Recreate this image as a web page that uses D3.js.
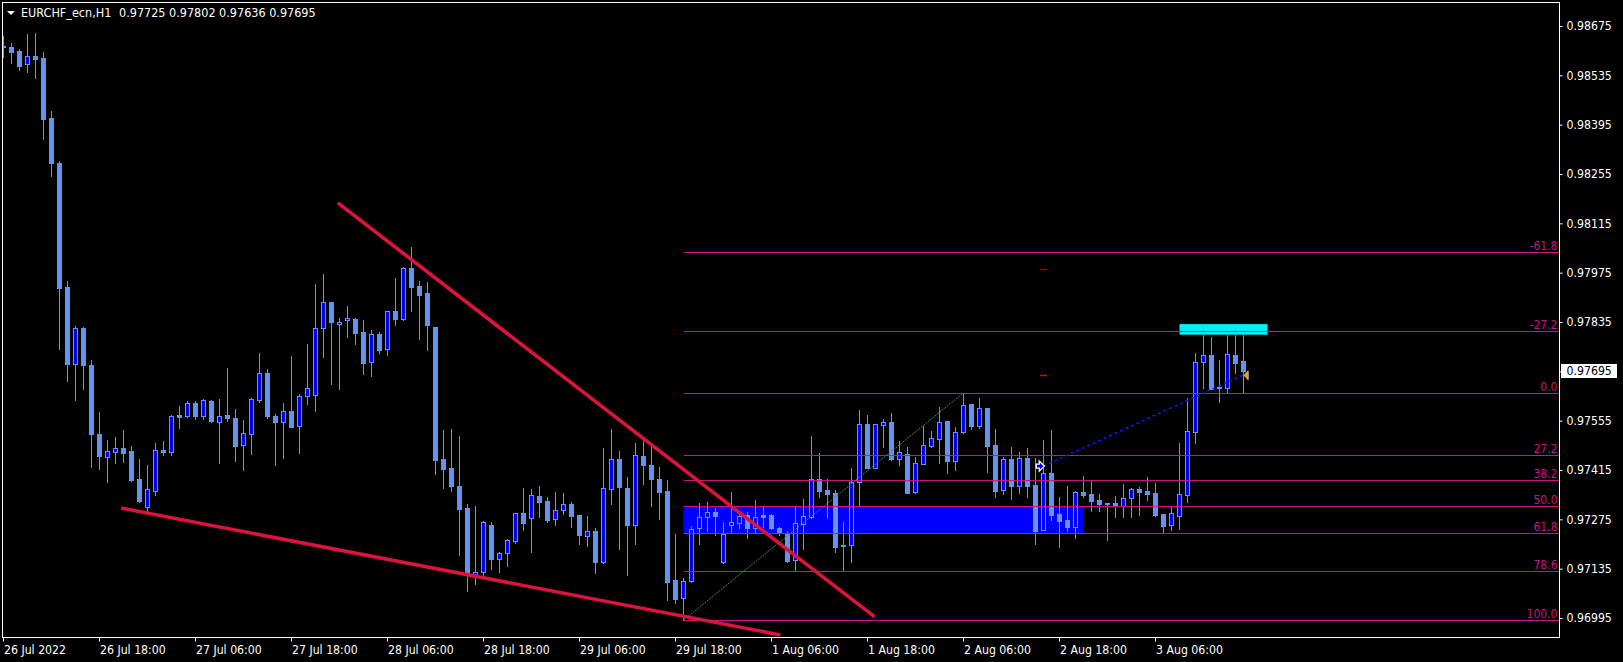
<!DOCTYPE html>
<html><head><meta charset="utf-8">
<script src="https://cdn.jsdelivr.net/npm/d3@7"></script>
<style>
html,body{margin:0;padding:0;background:#000;}
svg{display:block;font-family:"DejaVu Sans Condensed","DejaVu Sans",sans-serif;}
</style></head>
<body>
<svg id="c" width="1623" height="662"></svg>
<script>
// ---- data (EURCHF_ecn, H1) ----
const symbolTitle = "EURCHF_ecn,H1";
const open = [0.98618,0.98615,0.98604,0.98566,0.98590,0.98584,0.98414,0.98286,0.97934,0.97716,
0.97818,0.97713,0.97517,0.97452,0.97466,0.97477,0.97469,0.97389,0.97310,0.97356,
0.97472,0.97466,0.97571,0.97568,0.97605,0.97568,0.97611,0.97551,0.97571,0.97563,
0.97486,0.97517,0.97614,0.97690,0.97568,0.97551,0.97582,0.97540,0.97625,0.97628,
0.97818,0.97892,0.97829,0.97841,0.97843,0.97806,0.97721,0.97801,0.97758,0.97866,
0.97843,0.97988,0.97937,0.97917,0.97821,0.97446,0.97421,0.97370,0.97307,0.97118,
0.97126,0.97259,0.97163,0.97179,0.97214,0.97293,0.97280,0.97341,0.97327,0.97277,
0.97301,0.97318,0.97287,0.97228,0.97242,0.97154,0.97362,0.97446,0.97364,0.97258,
0.97456,0.97430,0.97389,0.97354,0.97103,0.97051,0.97101,0.97249,0.97281,0.97296,
0.97153,0.97258,0.97266,0.97287,0.97249,0.97286,0.97287,0.97250,0.97233,0.97159,
0.97261,0.97283,0.97389,0.97357,0.97350,0.97202,0.97202,0.97380,0.97545,0.97421,
0.97544,0.97551,0.97445,0.97461,0.97352,0.97433,0.97484,0.97504,0.97554,0.97440,
0.97523,0.97602,0.97540,0.97591,0.97486,0.97357,0.97446,0.97371,0.97449,0.97373,
0.97246,0.97406,0.97290,0.97273,0.97254,0.97352,0.97346,0.97330,0.97321,0.97321,
0.97314,0.97336,0.97361,0.97355,0.97350,0.97290,0.97260,0.97285,0.97345,0.97524,
0.97721,0.97741,0.97651,0.97647,0.97741,0.97725];
const high = [0.98647,0.98628,0.98611,0.98652,0.98656,0.98602,0.98434,0.98292,0.97951,0.97824,
0.97821,0.97727,0.97580,0.97500,0.97509,0.97529,0.97483,0.97446,0.97429,0.97492,
0.97497,0.97571,0.97597,0.97611,0.97611,0.97617,0.97614,0.97617,0.97704,0.97588,
0.97557,0.97619,0.97747,0.97701,0.97574,0.97605,0.97739,0.97631,0.97773,0.97943,
0.97971,0.97892,0.97846,0.97880,0.97846,0.97841,0.97812,0.97806,0.97866,0.97960,
0.97991,0.98048,0.97951,0.97948,0.97821,0.97529,0.97532,0.97512,0.97319,0.97314,
0.97270,0.97267,0.97183,0.97219,0.97294,0.97365,0.97361,0.97370,0.97339,0.97353,
0.97350,0.97324,0.97287,0.97284,0.97250,0.97477,0.97532,0.97469,0.97395,0.97492,
0.97507,0.97483,0.97424,0.97387,0.97232,0.97109,0.97256,0.97321,0.97324,0.97307,
0.97267,0.97352,0.97296,0.97296,0.97330,0.97311,0.97290,0.97253,0.97243,0.97311,
0.97333,0.97512,0.97463,0.97389,0.97357,0.97267,0.97421,0.97585,0.97571,0.97545,
0.97559,0.97577,0.97497,0.97480,0.97452,0.97540,0.97526,0.97594,0.97554,0.97537,
0.97634,0.97602,0.97619,0.97591,0.97532,0.97452,0.97480,0.97466,0.97477,0.97449,
0.97500,0.97529,0.97338,0.97370,0.97355,0.97398,0.97384,0.97347,0.97321,0.97341,
0.97375,0.97364,0.97367,0.97395,0.97378,0.97290,0.97311,0.97492,0.97619,0.97747,
0.97824,0.97792,0.97727,0.97798,0.97818,0.97802];
const low = [0.98586,0.98571,0.98550,0.98545,0.98528,0.98354,0.98250,0.97758,0.97668,0.97614,
0.97645,0.97424,0.97418,0.97381,0.97435,0.97438,0.97384,0.97324,0.97299,0.97344,
0.97458,0.97458,0.97534,0.97565,0.97560,0.97560,0.97551,0.97435,0.97554,0.97441,
0.97415,0.97461,0.97608,0.97563,0.97429,0.97449,0.97537,0.97463,0.97602,0.97582,
0.97736,0.97659,0.97645,0.97792,0.97773,0.97687,0.97682,0.97747,0.97741,0.97827,
0.97841,0.97866,0.97786,0.97756,0.97404,0.97364,0.97355,0.97174,0.97072,0.97091,
0.97110,0.97134,0.97126,0.97143,0.97207,0.97245,0.97183,0.97282,0.97268,0.97258,
0.97290,0.97254,0.97206,0.97200,0.97123,0.97151,0.97318,0.97191,0.97118,0.97206,
0.97376,0.97314,0.97275,0.97046,0.97038,0.96989,0.97098,0.97206,0.97242,0.97231,
0.97151,0.97235,0.97251,0.97223,0.97235,0.97254,0.97247,0.97231,0.97155,0.97128,
0.97191,0.97278,0.97338,0.97278,0.97181,0.97128,0.97154,0.97313,0.97420,0.97420,
0.97480,0.97444,0.97429,0.97349,0.97349,0.97432,0.97481,0.97434,0.97407,0.97414,
0.97520,0.97531,0.97534,0.97410,0.97339,0.97347,0.97334,0.97350,0.97339,0.97206,
0.97245,0.97274,0.97197,0.97243,0.97223,0.97339,0.97300,0.97300,0.97216,0.97282,
0.97282,0.97282,0.97288,0.97330,0.97284,0.97238,0.97245,0.97247,0.97324,0.97492,
0.97648,0.97648,0.97609,0.97636,0.97689,0.97636];
const close = [0.98615,0.98602,0.98562,0.98590,0.98582,0.98412,0.98285,0.97932,0.97716,0.97818,
0.97713,0.97517,0.97455,0.97469,0.97477,0.97463,0.97388,0.97328,0.97361,0.97472,
0.97466,0.97568,0.97565,0.97605,0.97568,0.97614,0.97553,0.97568,0.97563,0.97483,
0.97520,0.97617,0.97690,0.97568,0.97551,0.97582,0.97538,0.97625,0.97648,0.97818,
0.97892,0.97835,0.97835,0.97846,0.97804,0.97719,0.97801,0.97756,0.97866,0.97843,
0.97988,0.97934,0.97912,0.97827,0.97443,0.97418,0.97370,0.97304,0.97120,0.97125,
0.97267,0.97162,0.97179,0.97216,0.97293,0.97265,0.97344,0.97325,0.97272,0.97301,
0.97318,0.97285,0.97231,0.97242,0.97154,0.97364,0.97446,0.97368,0.97258,0.97458,
0.97429,0.97389,0.97352,0.97098,0.97050,0.97100,0.97247,0.97281,0.97296,0.97285,
0.97233,0.97267,0.97284,0.97249,0.97281,0.97283,0.97249,0.97236,0.97156,0.97265,
0.97284,0.97389,0.97356,0.97348,0.97197,0.97199,0.97381,0.97545,0.97421,0.97545,
0.97551,0.97445,0.97466,0.97351,0.97435,0.97485,0.97506,0.97551,0.97440,0.97522,
0.97599,0.97540,0.97591,0.97484,0.97356,0.97446,0.97370,0.97449,0.97371,0.97243,
0.97406,0.97288,0.97271,0.97254,0.97352,0.97343,0.97328,0.97319,0.97318,0.97313,
0.97336,0.97361,0.97353,0.97347,0.97287,0.97256,0.97293,0.97347,0.97526,0.97721,
0.97741,0.97646,0.97647,0.97743,0.97720,0.97695];

const priceTicks = [0.98675,0.98535,0.98395,0.98255,0.98115,0.97975,0.97835,0.97695,0.97555,0.97415,0.97275,0.97135,0.96995];
const timeTickIdx = [0,12,24,36,48,60,72,84,96,108,120,132,144];
const timeTickLabels = ["26 Jul 2022","26 Jul 18:00","27 Jul 06:00","27 Jul 18:00","28 Jul 06:00","28 Jul 18:00","29 Jul 06:00","29 Jul 18:00","1 Aug 06:00","1 Aug 18:00","2 Aug 06:00","2 Aug 18:00","3 Aug 06:00"];

// Fibonacci retracement (anchors: bar 85 low -> bar 120 high)
const fibAnchorIdx = [85, 120];
const fibLow = 0.96989, fibHigh = 0.97634;
const fibLevels = [-61.8,-27.2,0,27.2,38.2,50,61.8,78.6,100];
const fibLabels = ["-61.8","-27.2","0.0","27.2","38.2","50.0","61,8","78.6","100.0"];

// drawn objects (bar index, price)
const zoneRect = {i0:85, i1:135, p0:0.97311, p1:0.97236};
const cyanRect = {i0:147, i1:158, p0:0.97829, p1:0.97799};
const trendUpper = [[41.8,0.98173],[108.9,0.96998]];
const trendLower = [[14.7,0.97307],[97.1,0.96947]];
const blueDash = [[130,0.97426],[155,0.97685]];
const redMarks = [[130,0.97685,"#e00000"],[130,0.97985,"#8b0000"]];
const arrowMark = [129.6,0.97426];

// ---- drawing ----
const W=1623,H=662, L=2.5, R=1559.5, T=2.5, B=637.5;
const svg=d3.select("#c");
svg.append("rect").attr("width",W).attr("height",H).attr("fill","#000");

const x=d3.scaleLinear().domain([0,1]).range([3.5,11.5]);
const y=d3.scaleLinear().domain([0.96995,0.98675]).range([618,26]);
const ry=v=>Math.round(y(v))+0.5;

svg.append("clipPath").attr("id","clip").append("rect")
  .attr("x",L+0.5).attr("y",T+0.5).attr("width",R-L-1).attr("height",B-T-1);
const g=svg.append("g").attr("clip-path","url(#clip)");

// background rectangles
[[zoneRect,"#0000ff"],[cyanRect,"#00f0ff"]].forEach(([r,c])=>{
  g.append("rect").attr("x",x(r.i0)).attr("width",x(r.i1)-x(r.i0))
   .attr("y",y(r.p0)).attr("height",y(r.p1)-y(r.p0)).attr("fill",c);
});

// candles
const data=open.map((o,i)=>({i,o,h:high[i],l:low[i],c:close[i]}));
const cg=g.append("g");
cg.selectAll("line.w").data(data).join("line").attr("class","w")
  .attr("x1",d=>x(d.i)).attr("x2",d=>x(d.i))
  .attr("y1",d=>Math.round(y(d.h))).attr("y2",d=>Math.round(y(d.l))+1)
  .attr("stroke","#6495ed").attr("stroke-width",1);
cg.selectAll("rect.b").data(data).join("rect").attr("class","b")
  .attr("x",d=>x(d.i)-2).attr("width",4)
  .attr("y",d=>ry(Math.max(d.o,d.c)))
  .attr("height",d=>Math.max(0,ry(Math.min(d.o,d.c))-ry(Math.max(d.o,d.c))))
  .attr("fill",d=>d.c>d.o?"#0000ff":"#6495ed")
  .attr("stroke","#6495ed").attr("stroke-width",1);

// fibonacci
const fibPrice=lv=>fibHigh-(fibHigh-fibLow)*lv/100;
const fg=g.append("g");
fibLevels.forEach((lv,k)=>{
  const yy=Math.round(y(fibPrice(lv)))+0.5;
  fg.append("line").attr("x1",x(fibAnchorIdx[0])).attr("x2",R).attr("y1",yy).attr("y2",yy)
    .attr("stroke","#c71585").attr("stroke-width",1);
  fg.append("text").attr("x",R-2).attr("y",yy-2.5).attr("text-anchor","end")
    .attr("fill","#c71585").attr("font-size","12px").text(fibLabels[k]);
});
fg.append("line").attr("x1",x(fibAnchorIdx[0])).attr("y1",y(fibLow))
  .attr("x2",x(fibAnchorIdx[1])).attr("y2",y(fibHigh))
  .attr("stroke","#557a66").attr("stroke-width",1).attr("stroke-dasharray","2,1");

// trend lines
[trendUpper,trendLower].forEach(t=>{
  g.append("line").attr("x1",x(t[0][0])).attr("y1",y(t[0][1]))
   .attr("x2",x(t[1][0])).attr("y2",y(t[1][1]))
   .attr("stroke","#dc143c").attr("stroke-width",3.6).attr("stroke-linecap","butt");
});
g.append("line").attr("x1",x(blueDash[0][0])).attr("y1",y(blueDash[0][1]))
  .attr("x2",x(blueDash[1][0])).attr("y2",y(blueDash[1][1]))
  .attr("stroke","#1414ff").attr("stroke-width",1.5).attr("stroke-dasharray","3,3");
redMarks.forEach(m=>{
  g.append("line").attr("x1",x(m[0])-3.5).attr("x2",x(m[0])+3.5)
   .attr("y1",ry(m[1])).attr("y2",ry(m[1])).attr("stroke",m[2]).attr("stroke-width",1.5);
});
// arrow object
{
  const ax=x(arrowMark[0]), ay=y(arrowMark[1]);
  g.append("path").attr("d",`M${ax-4},${ay-2}L${ax-1},${ay-2}L${ax-1},${ay-5}L${ax+4},${ay}L${ax-1},${ay+5}L${ax-1},${ay+2}L${ax-4},${ay+2}Z`)
   .attr("fill","#0000ff").attr("stroke","#fff").attr("stroke-width",1.3);
}
// last price marker
{
  const lx=x(close.length-1), ly=y(close[close.length-1])+4;
  g.append("path").attr("d",`M${lx},${ly}L${lx+4},${ly-4.5}L${lx+4},${ly+4.5}Z`).attr("fill","#e0a020");
  g.append("line").attr("x1",lx+4.5).attr("x2",lx+4.5).attr("y1",ly-4.5).attr("y2",ly+4.5)
   .attr("stroke","#fff").attr("stroke-width",1);
}

// frame
svg.append("rect").attr("x",L).attr("y",T).attr("width",R-L).attr("height",B-T)
  .attr("fill","none").attr("stroke","#fff").attr("stroke-width",1);

// right price axis
const ya=svg.append("g").attr("transform",`translate(${R},0)`)
  .call(d3.axisRight(y).tickValues(priceTicks).tickSize(3).tickPadding(4).tickFormat(d3.format(".5f")));
ya.select(".domain").remove();
ya.selectAll("line").attr("stroke","#fff");
ya.selectAll("text").attr("fill","#fff").attr("font-size","12.2px")
  .attr("font-family","'DejaVu Sans Condensed','DejaVu Sans',sans-serif");

// current price box
{
  const lp=close[close.length-1], yy=y(lp);
  svg.append("rect").attr("x",R+1.5).attr("y",Math.round(yy)-7).attr("width",56).attr("height",14).attr("fill","#fff");
  svg.append("text").attr("x",R+7).attr("y",yy).attr("dy","0.32em").attr("fill","#000")
    .attr("font-size","12.2px").text(d3.format(".5f")(lp));
}

// bottom time axis
const xa=svg.append("g").attr("transform",`translate(0,${B})`)
  .call(d3.axisBottom(x).tickValues(timeTickIdx).tickSize(4).tickFormat((d,k)=>timeTickLabels[k]));
xa.select(".domain").remove();
xa.selectAll("line").attr("stroke","#fff").attr("transform","translate(-0.5,0)");
xa.selectAll("text").attr("fill","#fff").attr("font-size","12.2px").attr("text-anchor","start")
  .attr("x",0).attr("y",8).attr("dy","0.72em")
  .attr("font-family","'DejaVu Sans Condensed','DejaVu Sans',sans-serif");

// title
svg.append("path").attr("d","M7,11L15,11L11,15Z").attr("fill","#fff");
svg.append("text").attr("x",21).attr("y",17).attr("fill","#fff").attr("font-size","12.5px").text(symbolTitle);
const n=close.length-1, f5=d3.format(".5f");
svg.append("text").attr("x",119).attr("y",17).attr("fill","#fff").attr("font-size","12.5px")
  .text([open[n],high[n],low[n],close[n]].map(f5).join(" "));
</script>
</body></html>
